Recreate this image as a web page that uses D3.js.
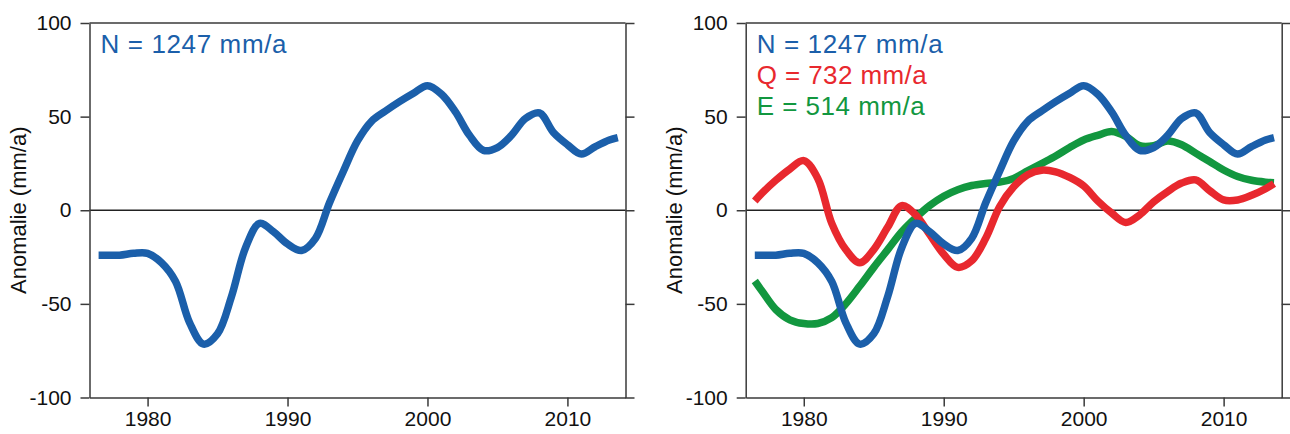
<!DOCTYPE html>
<html>
<head>
<meta charset="utf-8">
<script src="https://cdn.jsdelivr.net/npm/d3@7"></script>
<style>
    body { margin: 0; background: #fff; }
    svg { display: block; font-family: "Liberation Sans", Arial, sans-serif; }
</style>
</head>
<body>
<div id="chart-area"></div>
<script>
// jahre (gleitendes mittel, erste/letzte stuetzstelle am rand)
var years = [1976.5, 1977, 1978, 1979, 1980, 1981, 1982, 1983, 1984, 1985, 1986, 1987, 1988, 1989,
             1990, 1991, 1992, 1993, 1994, 1995, 1996, 1997, 1998, 1999, 2000, 2001, 2002, 2003,
             2004, 2005, 2006, 2007, 2008, 2009, 2010, 2011, 2012, 2013, 2013.6]

// Niederschlag N
var nValues = [-24, -24, -24, -23, -23, -28, -38, -60, -71.5, -66, -46, -20, -7, -11.5,
               -18, -21.5, -15, 4, 21, 37, 47.5, 53, 58, 62.5, 66.5, 62, 52.5, 40,
               32, 33.5, 40, 49, 52, 41.5, 35, 30, 34, 37.5, 38.8]

// Abfluss Q
var qValues = [5, 9, 16, 22, 26.5, 17, -7, -21, -28, -21, -9, 2.5, -2.5, -13,
               -23.5, -30.5, -27, -15, 2, 12.5, 19, 21.4, 20.5, 17.5, 13, 5, -1.5, -6.5,
               -2.5, 4.5, 10, 14.5, 16.2, 10.5, 5.5, 5.5, 8, 11.5, 14.2]

// Verdunstung E
var eValues = [-37.8, -43, -53, -58.5, -60.5, -60.5, -57.4, -50, -40.5, -30.5, -21, -11.5, -4, 2.5,
               7.5, 11, 13.2, 14.3, 15, 17, 21, 25, 29, 33.5, 37.5, 40, 42, 39.5,
               34.5, 34.5, 37, 35, 30.5, 26, 21.5, 18, 16, 15, 14.7]

var yTicks = [-100, -50, 0, 50, 100]
var xTicks = [1980, 1990, 2000, 2010]

var colors = {N: "#1b5faa", Q: "#e8282e", E: "#12973f"}

var svgWidth = 1290,
    svgHeight = 434

var plotW = 536,
    plotTop = 23,
    plotBottom = 397.5

var svg = d3.select("#chart-area").append("svg")
    .attr("width", svgWidth)
    .attr("height", svgHeight)

var yScale = d3.scaleLinear()
    .domain([-100, 100])
    .range([plotBottom, plotTop])

function drawPanel(left, series) {
    var xScale = d3.scaleLinear()
        .domain([1975.85, 2014.15])
        .range([0, plotW])

    var g = svg.append("g")
        .attr("transform", `translate(${left},0)`)

    // zero line
    g.append("line")
        .attr("x1", 0)
        .attr("x2", plotW)
        .attr("y1", yScale(0))
        .attr("y2", yScale(0))
        .attr("stroke", "#222")
        .attr("stroke-width", 1.3)

    // top frame line
    g.append("line")
        .attr("x1", 0)
        .attr("x2", plotW)
        .attr("y1", plotTop)
        .attr("y2", plotTop)
        .attr("stroke", "#3a3a3a")
        .attr("stroke-width", 1.5)

    // plain hyphen minus like the original
    var leftAxis = d3.axisLeft(yScale)
        .tickValues(yTicks)
        .tickSize(9)
        .tickPadding(9)
        .tickSizeOuter(0)
        .tickFormat(function(d) { return String(d) })

    var rightAxis = d3.axisRight(yScale)
        .tickValues(yTicks)
        .tickSize(9)
        .tickSizeOuter(0)
        .tickFormat("")

    var botAxis = d3.axisBottom(xScale)
        .tickValues(xTicks)
        .tickSize(9)
        .tickPadding(5)
        .tickSizeOuter(0)
        .tickFormat(function(d) { return String(d) })

    var ya = g.append("g").call(leftAxis)
    var yr = g.append("g").attr("transform", `translate(${plotW},0)`).call(rightAxis)
    var xa = g.append("g").attr("transform", `translate(0,${plotBottom})`).call(botAxis)

    ;[ya, yr, xa].forEach(function(a) {
        a.select(".domain").attr("stroke", "#3a3a3a").attr("stroke-width", 1.5)
        a.selectAll(".tick line").attr("stroke", "#3a3a3a").attr("stroke-width", 1.5)
        a.selectAll(".tick text")
            .attr("fill", "#111")
            .attr("font-size", "21px")
            .attr("font-family", "'Liberation Sans', Arial, sans-serif")
    })

    g.append("text")
        .attr("transform", `translate(-64,${(plotTop + plotBottom) / 2}) rotate(-90)`)
        .attr("text-anchor", "middle")
        .attr("font-size", "22px")
        .attr("fill", "#111")
        .text("Anomalie (mm/a)")

    var line = d3.line()
        .x(function(d, i) { return xScale(years[i]) })
        .y(function(d) { return yScale(d) })
        .curve(d3.curveCatmullRom.alpha(0.5))

    series.forEach(function(s) {
        g.append("path")
            .datum(s.values)
            .attr("fill", "none")
            .attr("stroke", s.color)
            .attr("stroke-width", 7.5)
            .attr("stroke-linejoin", "round")
            .attr("d", line)
    })

    // labels, top-left inside the plot
    series.slice().sort(function(a, b) { return a.order - b.order }).forEach(function(s, i) {
        g.append("text")
            .attr("x", 11)
            .attr("y", 53 + i * 31)
            .attr("font-size", "26px")
            .attr("fill", s.color)
            .attr("textLength", s.width)
            .attr("lengthAdjust", "spacing")
            .text(s.label)
    })
}

var nSeries = {label: "N = 1247 mm/a", values: nValues, color: colors.N, order: 0, width: 186}
var qSeries = {label: "Q = 732 mm/a", values: qValues, color: colors.Q, order: 1, width: 170}
var eSeries = {label: "E = 514 mm/a", values: eValues, color: colors.E, order: 2, width: 168}

drawPanel(89.5, [nSeries])
drawPanel(745.7, [eSeries, qSeries, nSeries])
</script>
</body>
</html>
